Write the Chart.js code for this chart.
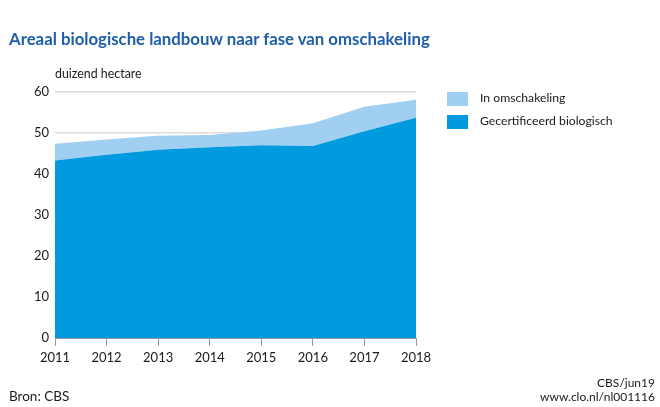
<!DOCTYPE html>
<html>
<head>
<meta charset="utf-8">
<script src="https://cdn.jsdelivr.net/npm/chart.js@4/dist/chart.umd.min.js"></script>
<style>
  html, body { margin: 0; padding: 0; background: #fff; }
  body { width: 660px; height: 407px; position: relative; overflow: hidden; font-family: Lato, sans-serif; color: #1a1a1a; }
  #c { position: absolute; left: 0; top: 0; }
  .t { position: absolute; white-space: nowrap; line-height: 1; }
  #title { left: 9px; top: 31px; font-size: 16.8px; font-weight: 700; color: #1f5ea8; }
  #unit { left: 55px; top: 68px; font-size: 12.4px; }
  .sw { position: absolute; left: 447px; width: 21px; height: 14px; }
  .lg { left: 480px; font-size: 12.2px; }
  #src { left: 9px; top: 390px; font-size: 13.5px; }
  .r { right: 5px; font-size: 12px; text-align: right; }
</style>
</head>
<body>
<canvas id="c" width="660" height="407"></canvas>
<div class="t" id="title">Areaal biologische landbouw naar fase van omschakeling</div>
<div class="t" id="unit">duizend hectare</div>
<div class="sw" style="top:92px; background:#a0cff2;"></div>
<div class="t lg" style="top:92px;">In omschakeling</div>
<div class="sw" style="top:115px; background:#009ade;"></div>
<div class="t lg" style="top:115px;">Gecertificeerd biologisch</div>
<div class="t" id="src">Bron: CBS</div>
<div class="t r" style="top:377px;">CBS/jun19</div>
<div class="t r" style="top:391px;">www.clo.nl/nl001116</div>
<script>
const years = ["2011","2012","2013","2014","2015","2016","2017","2018"];
const gecertificeerd = [43.3, 44.7, 45.9, 46.5, 47.0, 46.8, 50.4, 53.7];
const inOmschakeling = [4.1, 3.7, 3.4, 3.0, 3.6, 5.6, 6.0, 4.4];
const yTicks = [0, 10, 20, 30, 40, 50, 60];

new Chart(document.getElementById('c'), {
  type: 'line',
  data: {
    labels: years,
    datasets: [
      { label: 'Gecertificeerd biologisch', data: gecertificeerd, backgroundColor: '#009ade', borderWidth: 0, pointRadius: 0, fill: 'origin', tension: 0 },
      { label: 'In omschakeling', data: inOmschakeling, backgroundColor: '#a0cff2', borderWidth: 0, pointRadius: 0, fill: '-1', tension: 0 }
    ]
  },
  options: {
    responsive: false,
    animation: false,
    events: [],
    layout: { padding: { left: 0, right: 244, top: 92, bottom: 0 } },
    plugins: { legend: { display: false }, tooltip: { enabled: false }, title: { display: false } },
    scales: {
      x: {
        offset: false,
        grid: { display: true, drawOnChartArea: false, drawTicks: true, tickLength: 8, color: '#9a9a9a', lineWidth: 1 },
        border: { display: true, color: '#9a9a9a' },
        ticks: { color: '#1a1a1a', font: { family: 'Lato', size: 13 }, padding: 4, maxRotation: 0, autoSkip: false },
        afterFit: s => { s.height = 69; }
      },
      y: {
        stacked: true,
        min: 0, max: 60,
        afterBuildTicks: s => { s.ticks = yTicks.map(v => ({ value: v })); },
        grid: { color: '#dcdcdc', lineWidth: 1.5, drawTicks: false },
        border: { display: false },
        ticks: { color: '#1a1a1a', font: { family: 'Lato', size: 13 }, padding: 6 },
        afterFit: s => { s.width = 55; }
      }
    }
  }
});
</script>
</body>
</html>
